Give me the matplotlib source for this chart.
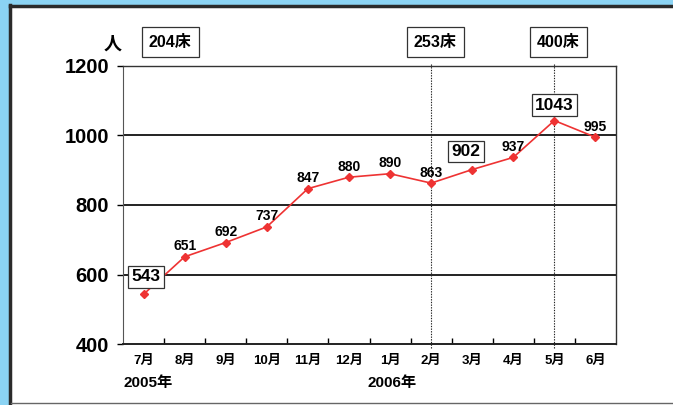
import matplotlib.pyplot as plt
import matplotlib.transforms as mtransforms
from matplotlib.patches import Rectangle
from matplotlib.lines import Line2D

plt.rcParams['font.family'] = ['Liberation Sans', 'Noto Sans CJK JP', 'DejaVu Sans']
plt.rcParams['font.weight'] = 'bold'

months = ['7月', '8月', '9月', '10月', '11月', '12月', '1月', '2月', '3月', '4月', '5月', '6月']
patients = [543, 651, 692, 737, 847, 880, 890, 863, 902, 937, 1043, 995]
boxed_idx = [0, 8, 10]
bed_labels = ['204床', '253床', '400床']
bed_pos = [0.65, 7.1, 10.1]
bed_lines = [7, 10]
year_labels = ['2005年', '2006年']
year_pos = [0.1, 6.05]
yticks = [400, 600, 800, 1000, 1200]

W, H = 673, 405
fig = plt.figure(figsize=(W / 100, H / 100), dpi=100)
fig.patch.set_facecolor('#8bd3f3')

# white panel with dark frame
fig.patches.append(Rectangle((11 / W, 0), 1, (H - 7) / H, transform=fig.transFigure,
                             facecolor='white', edgecolor='none', zorder=-5))
fig.lines.append(Line2D([9.5 / W, 9.5 / W], [0, (H - 5) / H], transform=fig.transFigure,
                        color='#2a2a2a', lw=2.5, zorder=-4))
fig.lines.append(Line2D([9.5 / W, 1], [(H - 6) / H, (H - 6) / H], transform=fig.transFigure,
                        color='#2a2a2a', lw=2.5, zorder=-4))
fig.lines.append(Line2D([11 / W, 1], [2.5 / H, 2.5 / H], transform=fig.transFigure,
                        color='#666666', lw=1, zorder=-4))

ax = fig.add_axes([123 / W, (H - 344) / H, 493 / W, 278 / H])
ax.set_zorder(1)
x = list(range(len(months)))

ax.set_xlim(-0.5, len(months) - 0.5)
ax.set_ylim(400, 1200)
ax.set_yticks(yticks)
ax.set_yticklabels([str(v) for v in yticks], fontsize=14.5, fontweight='bold')
ax.tick_params(axis='y', length=4, width=1, pad=6)

ax.set_xticks(x)
ax.set_xticklabels(months, fontsize=9.5, fontweight='bold')
ax.tick_params(axis='x', which='major', length=0, pad=8)
ax.set_xticks([i + 0.5 for i in x[:-1]], minor=True)
ax.tick_params(axis='x', which='minor', direction='in', length=4, width=1)

for v in yticks[1:-1]:
    ax.axhline(v, color='#222222', lw=1.4, zorder=1)

for s in ['top', 'right']:
    ax.spines[s].set_color('#333333')
    ax.spines[s].set_linewidth(1)
ax.spines['left'].set_color('#555555')
ax.spines['bottom'].set_color('#222222')
ax.spines['bottom'].set_linewidth(1.4)

ax.plot(x, patients, color='#ee3333', lw=1.2, marker='D', markersize=4.5, zorder=3)

offsets = {0: (1.5, 12.5), 8: (-4.5, 13), 10: (0, 11)}
for i, v in enumerate(patients):
    if i in boxed_idx:
        ax.annotate(str(v), (i, v), xytext=offsets[i], textcoords='offset points',
                    ha='center', va='center', fontsize=12.5, fontweight='bold',
                    bbox=dict(boxstyle='square,pad=0.2', facecolor='white',
                              edgecolor='#333333', lw=0.9), zorder=4)
    else:
        ax.annotate(str(v), (i, v), xytext=(0, 7.5), textcoords='offset points',
                    ha='center', va='center', fontsize=10, fontweight='bold', zorder=4)

trans = mtransforms.blended_transform_factory(ax.transData, ax.transAxes)
for i in bed_lines:
    ax.plot([i, i], [-0.014, 1.01], transform=trans, color='#222222', lw=0.8,
            linestyle=(0, (1.2, 1.2)), clip_on=False, zorder=2)

for lab, p in zip(bed_labels, bed_pos):
    ax.text(p, 1.086, lab, transform=trans, ha='center', va='center', fontsize=11.5,
            fontweight='bold',
            bbox=dict(boxstyle='square,pad=0.45', facecolor='white', edgecolor='#333333', lw=0.9))

for lab, p in zip(year_labels, year_pos):
    ax.text(p, -0.142, lab, transform=trans, ha='center', va='center', fontsize=11,
            fontweight='bold')

fig.text(113 / W, 1 - 45 / H, '人', ha='center', va='center', fontsize=13, fontweight='bold')

fig.savefig('out.png', dpi=100, facecolor=fig.get_facecolor())
